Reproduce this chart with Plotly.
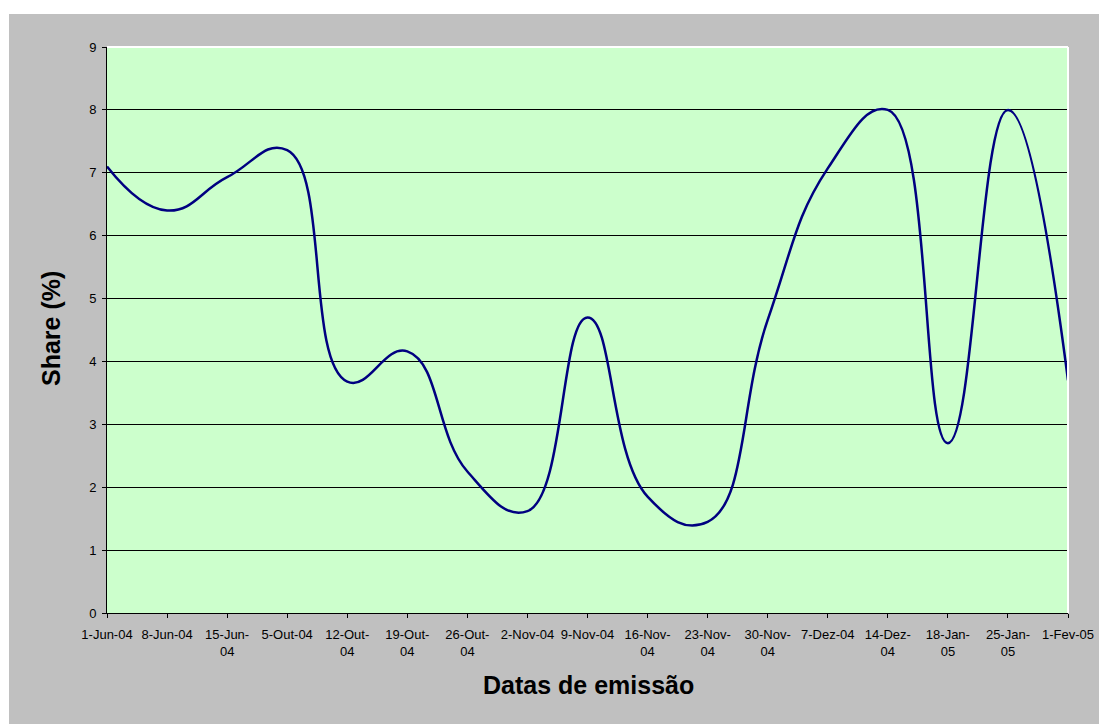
import plotly.graph_objects as go

categories = ["1-Jun-04", "8-Jun-04", "15-Jun-04", "5-Out-04", "12-Out-04", "19-Out-04",
              "26-Out-04", "2-Nov-04", "9-Nov-04", "16-Nov-04", "23-Nov-04", "30-Nov-04",
              "7-Dez-04", "14-Dez-04", "18-Jan-05", "25-Jan-05", "1-Fev-05"]
tick_labels = ["1-Jun-04", "8-Jun-04", "15-Jun-<br>04", "5-Out-04", "12-Out-<br>04", "19-Out-<br>04",
               "26-Out-<br>04", "2-Nov-04", "9-Nov-04", "16-Nov-<br>04", "23-Nov-<br>04", "30-Nov-<br>04",
               "7-Dez-04", "14-Dez-<br>04", "18-Jan-<br>05", "25-Jan-<br>05", "1-Fev-05"]
share = [7.10, 6.40, 6.93, 7.36, 3.68, 4.16, 2.25, 1.62, 4.70, 1.85, 1.45, 4.66,
         7.07, 8.00, 2.70, 8.00, 3.70]
y_ticks = [0, 1, 2, 3, 4, 5, 6, 7, 8, 9]

# page body adds an 8px margin; figure sized to fill the rest of the 1107x724 window
OFF = 8
W, H = 1107 - OFF, 724 - OFF
L, R, T, B = 107 - OFF, 1068 - OFF, 47 - OFF, 613 - OFF
pw, ph = R - L, B - T

def px_x(p):
    return (p - OFF - L) / pw

def px_y(p):
    return (B - (p - OFF)) / ph

fig = go.Figure()
fig.add_trace(go.Scatter(
    x=categories, y=share, mode="lines",
    line=dict(color="#000080", width=2.5, shape="spline", smoothing=1.3),
    hoverinfo="x+y", showlegend=False,
))

font = "Liberation Sans, Arial, sans-serif"

fig.update_layout(
    width=W, height=H,
    margin=dict(l=L, r=W - R, t=T, b=H - B, pad=0),
    paper_bgcolor="#c0c0c0",
    plot_bgcolor="#ccffcc",
    font=dict(family=font, size=13, color="#000000"),
    showlegend=False,
    xaxis=dict(
        type="category", range=[0, len(categories) - 1],
        tickmode="array", tickvals=categories, ticktext=tick_labels,
        ticks="outside", ticklen=4, tickcolor="#000000", tickwidth=1,
        showline=True, linecolor="#000000", linewidth=1,
        showgrid=False, zeroline=False, tickangle=0,
        ticklabelstandoff=5,
        tickfont=dict(family=font, size=13, color="#000000"),
    ),
    yaxis=dict(
        range=[0, 9], tickmode="array", tickvals=y_ticks,
        ticks="outside", ticklen=4, tickcolor="#000000", tickwidth=1,
        showline=True, linecolor="#000000", linewidth=1,
        showgrid=True, gridcolor="#000000", gridwidth=1, zeroline=False,
        ticklabelstandoff=3,
        tickfont=dict(family=font, size=13, color="#000000"),
    ),
    shapes=[
        # white outer margins (top and left strips, beyond the page's own margin)
        dict(type="rect", xref="paper", yref="paper",
             x0=px_x(OFF), x1=px_x(1107), y0=px_y(14), y1=px_y(OFF),
             fillcolor="#ffffff", line=dict(width=0), layer="above"),
        dict(type="rect", xref="paper", yref="paper",
             x0=px_x(OFF), x1=px_x(9), y0=px_y(724), y1=px_y(OFF),
             fillcolor="#ffffff", line=dict(width=0), layer="above"),
        # white top and right plot-area edges
        dict(type="line", xref="paper", yref="paper", x0=0, x1=1, y0=1, y1=1,
             line=dict(color="#ffffff", width=2), layer="above"),
        dict(type="line", xref="paper", yref="paper", x0=1, x1=1, y0=0, y1=1,
             line=dict(color="#ffffff", width=2), layer="above"),
    ],
    annotations=[
        dict(text="<b>Datas de emissão</b>", xref="paper", yref="paper",
             x=px_x(588), y=px_y(685), xanchor="center", yanchor="middle",
             showarrow=False, font=dict(family=font, size=25, color="#000000")),
        dict(text="<b>Share (%)</b>", xref="paper", yref="paper",
             x=px_x(51), y=px_y(329), xanchor="center", yanchor="middle",
             textangle=-90, showarrow=False,
             font=dict(family=font, size=25, color="#000000")),
    ],
)

fig.write_html("out.html")
